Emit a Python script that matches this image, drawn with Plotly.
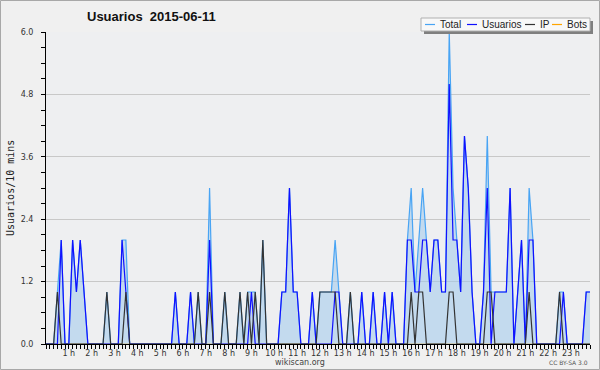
import plotly.graph_objects as go

# 10-minute slots (0..143), values per series, grouped six per hour
slots = list(range(144))
usuarios = [
    0,0,0,0,2,0,  0,2,1,2,1,0,  0,0,0,0,0,0,  0,0,2,1,0,0,
    0,0,0,0,0,0,  0,0,0,0,1,0,  0,0,1,0,0,0,  0,2,0,0,0,0,
    0,0,0,0,0,0,  1,0,0,0,0,0,  0,0,1,1,3,1,  1,0,0,0,1,0,
    0,0,0,0,1,1,  0,0,0,0,0,1,  0,0,1,0,0,1,  0,1,0,0,0,2,
    2,1,1,2,2,1,  2,2,1,1,5,2,  2,1,4,3,1,0,  0,1,3,0,1,1,
    1,1,3,0,1,2,  0,2,2,0,0,0,  0,0,0,0,1,0,  0,0,0,0,1,1,
]
ip = [
    0,0,0,1,0,0,  0,0,0,0,0,0,  0,0,0,0,1,0,  0,0,0,1,0,0,
    0,0,0,0,0,0,  0,0,0,0,0,0,  0,0,0,0,1,0,  0,1,0,0,0,1,
    0,0,0,1,0,1,  0,1,0,2,0,0,  0,0,0,0,0,0,  0,0,0,0,0,0,
    1,1,1,1,1,0,  0,0,1,0,0,0,  0,0,0,0,0,0,  0,0,0,0,0,0,
    1,0,1,1,0,0,  0,0,0,0,1,1,  0,0,0,0,0,0,  0,0,1,1,0,0,
    0,0,0,0,0,0,  0,1,0,0,0,0,  0,0,0,1,0,0,  0,0,0,0,0,0,
]
total = [
    0,0,0,1,2,0,  0,2,1,2,1,0,  0,0,0,0,1,0,  0,0,2,2,0,0,
    0,0,0,0,0,0,  0,0,0,0,1,0,  0,0,1,0,1,0,  0,3,0,0,0,1,
    0,0,0,1,0,1,  1,1,0,2,0,0,  0,0,1,1,3,1,  1,0,0,0,1,0,
    1,1,1,1,2,1,  0,0,1,0,0,1,  0,0,1,0,0,1,  0,1,0,0,0,2,
    3,1,2,3,2,1,  2,2,1,1,6,3,  2,1,4,3,1,0,  0,1,4,1,1,1,
    1,1,3,0,1,2,  0,3,2,0,0,0,  0,0,0,1,1,0,  0,0,0,0,1,1,
]
bots = [0] * 144

hour_slots = [6 * h for h in range(1, 24)]
hour_labels = [f"{h} h" for h in range(1, 24)]
y_ticks = [0, 1.2, 2.4, 3.6, 4.8, 6.0]
y_labels = ["0.0", "1.2", "2.4", "3.6", "4.8", "6.0"]

C_TOTAL = "#48a4f4"
C_FILL = "rgba(160,200,235,0.55)"
C_USER = "#1010ff"
C_IP = "#333333"
C_BOTS = "#ffa500"

fig = go.Figure()
fig.add_trace(go.Scatter(x=slots, y=bots, mode="lines", line=dict(color=C_BOTS, width=1.2), name="Bots"))
fig.add_trace(go.Scatter(x=slots, y=total, mode="lines", fill="tozeroy", fillcolor=C_FILL,
                         line=dict(color=C_TOTAL, width=1.2), name="Total"))
fig.add_trace(go.Scatter(x=slots, y=usuarios, mode="lines", line=dict(color=C_USER, width=1.2), name="Usuarios"))
fig.add_trace(go.Scatter(x=slots, y=ip, mode="lines", line=dict(color=C_IP, width=1.2), name="IP"))

# plot area in pixels
L, R, T, B = 46, 590, 32, 344
W, H = R - L, B - T
def px(x):
    return (x - L) / W
def py(y):
    return (B - y) / H

shapes = []
annotations = []
# outer border
shapes.append(dict(type="rect", xref="paper", yref="paper", x0=px(0.5), x1=px(599.5), y0=py(0.5), y1=py(369.5),
                   line=dict(color="#a8a8a8", width=1), fillcolor="rgba(0,0,0,0)", layer="below"))
# legend box with shadow
shapes.append(dict(type="rect", xref="paper", yref="paper", x0=px(424), x1=px(593), y0=py(21), y1=py(34),
                   line=dict(width=0), fillcolor="#7f7f7f"))
shapes.append(dict(type="rect", xref="paper", yref="paper", x0=px(421), x1=px(590), y0=py(18), y1=py(31),
                   line=dict(color="#b0b0b0", width=1), fillcolor="#f8f8f8"))
legend_items = [("Total", C_TOTAL, 425, 438), ("Usuarios", C_USER, 467, 480),
                ("IP", C_IP, 525, 538), ("Bots", C_BOTS, 552, 565)]
for name, col, lx, tx in legend_items:
    shapes.append(dict(type="line", xref="paper", yref="paper", x0=px(lx), x1=px(lx + 10), y0=py(24.5), y1=py(24.5),
                       line=dict(color=col, width=1.2)))
    annotations.append(dict(text=name, xref="paper", yref="paper", x=px(tx), y=py(24.5), xanchor="left",
                            yanchor="middle", showarrow=False,
                            font=dict(family="Liberation Sans, Arial, sans-serif", size=10, color="#222")))

annotations.append(dict(text="Usuarios\u00a0 2015-06-11", xref="paper", yref="paper", x=px(85), y=py(17),
                        xanchor="left", yanchor="middle", showarrow=False,
                        font=dict(family="Liberation Sans, Arial, sans-serif", size=13, color="#111", weight="bold")))
annotations.append(dict(text="Usuarios/10 mins", xref="paper", yref="paper", x=px(10), y=py(188),
                        xanchor="center", yanchor="middle", textangle=-90, showarrow=False,
                        font=dict(family="DejaVu Sans Mono, monospace", size=10, color="#222")))
annotations.append(dict(text="wikiscan.org", xref="paper", yref="paper", x=px(300), y=py(362),
                        xanchor="center", yanchor="middle", showarrow=False,
                        font=dict(family="DejaVu Sans, sans-serif", size=8, color="#444")))
annotations.append(dict(text="CC BY-SA 3.0", xref="paper", yref="paper", x=px(590), y=py(362),
                        xanchor="right", yanchor="middle", showarrow=False,
                        font=dict(family="DejaVu Sans, sans-serif", size=6, color="#555")))

fig.update_layout(
    width=600, height=370,
    margin=dict(l=L, r=600 - R, t=T, b=370 - B, pad=0),
    paper_bgcolor="#f0f0f0", plot_bgcolor="#eeeff1",
    showlegend=False,
    shapes=shapes, annotations=annotations,
    xaxis=dict(range=[0, 143], tickmode="array", tickvals=hour_slots, ticktext=hour_labels,
               showgrid=False, zeroline=False, showline=True, linecolor="#000", linewidth=1,
               ticks="outside", ticklen=4, tickcolor="#000", tickwidth=1,
               minor=dict(dtick=1, tick0=0, ticks="outside", ticklen=4, tickcolor="#000", tickwidth=1, showgrid=False),
               tickfont=dict(family="DejaVu Sans, sans-serif", size=8, color="#333"), ticklabelstandoff=-3),
    yaxis=dict(range=[0, 6], tickmode="array", tickvals=y_ticks, ticktext=y_labels,
               showgrid=True, gridcolor="#c8c8c8", gridwidth=1, zeroline=False,
               showline=True, linecolor="#000", linewidth=1,
               ticks="outside", ticklen=4, tickcolor="#000", tickwidth=1,
               minor=dict(dtick=0.3, tick0=0, ticks="outside", ticklen=4, tickcolor="#000", tickwidth=1, showgrid=False),
               tickfont=dict(family="DejaVu Sans, sans-serif", size=8, color="#333"), ticklabelstandoff=6),
)

fig.write_html("out.html", config={"displayModeBar": False},
               post_script="document.body.style.margin='0';document.body.style.padding='0';")
